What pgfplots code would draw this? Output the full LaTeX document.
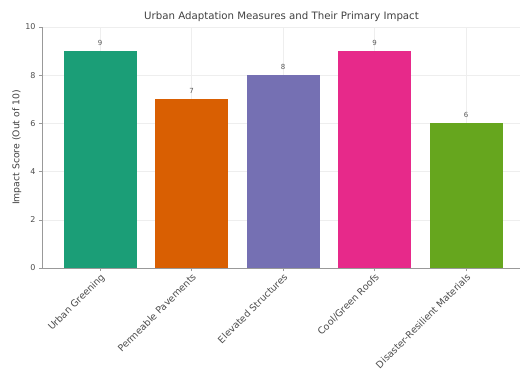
\documentclass[border=0pt]{standalone}
\usepackage{fontspec}
\setmainfont{DejaVu Sans}
\usepackage{pgfplots}
\pgfplotsset{compat=1.18}
\definecolor{c1}{HTML}{1B9E77}
\definecolor{c2}{HTML}{D95F02}
\definecolor{c3}{HTML}{7570B3}
\definecolor{c4}{HTML}{E7298A}
\definecolor{c5}{HTML}{66A61E}
\definecolor{gridc}{HTML}{EEEEEE}
\definecolor{spine}{HTML}{999999}
\begin{document}
\begin{tikzpicture}
\path[use as bounding box] (-42pt,-115pt) rectangle (478pt,268pt);
\begin{axis}[
  at={(0,0)}, anchor=south west,
  scale only axis, width=479pt, height=241pt,
  xmin=-0.635, xmax=4.6, ymin=0, ymax=10,
  axis x line*=bottom, axis y line*=left,
  axis line style={spine, line width=0.6pt},
  xtick={0,1,2,3,4},
  xticklabels={Urban Greening, Permeable Pavements, Elevated Structures, Cool/Green Roofs, Disaster-Resilient Materials},
  x tick label style={rotate=45, anchor=north east, font=\fontsize{9.5}{10}\selectfont, text=black!70, inner sep=1pt},
  ytick={0,2,4,6,8,10},
  y tick label style={font=\fontsize{8}{9}\selectfont, text=black!70},
  /pgf/number format/assume math mode=true,
  tick style={spine, line width=0.5pt},
  major tick length=3pt,
  tick align=outside,
  xmajorgrids, ymajorgrids,
  grid style={gridc, line width=0.4pt},
  ylabel={Impact Score (Out of 10)},
  ylabel style={font=\fontsize{9.3}{10}\selectfont, text=black!75, yshift=-3pt},
  title={Urban Adaptation Measures and Their Primary Impact},
  title style={font=\fontsize{10.2}{11}\selectfont, text=black!75, yshift=-4pt},
  ybar, bar width=0.8, bar shift=0pt,
  nodes near coords,
  nodes near coords style={font=\fontsize{7}{8}\selectfont, text=black!65, yshift=2pt},
  clip=false,
]
\addplot[fill=c1, draw=none] coordinates {(0,9)};
\addplot[fill=c2, draw=none] coordinates {(1,7)};
\addplot[fill=c3, draw=none] coordinates {(2,8)};
\addplot[fill=c4, draw=none] coordinates {(3,9)};
\addplot[fill=c5, draw=none] coordinates {(4,6)};
\end{axis}
\end{tikzpicture}
\end{document}
